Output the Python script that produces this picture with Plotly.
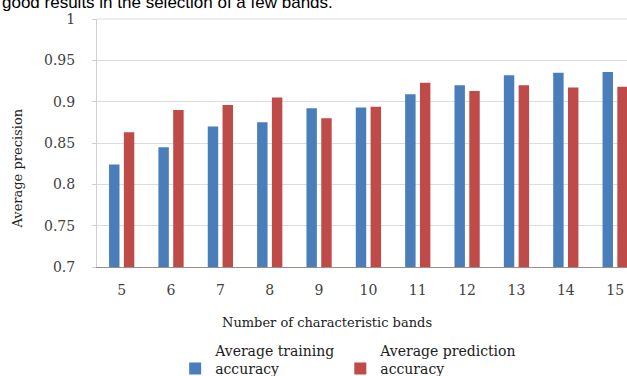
import plotly.graph_objects as go

# Number of characteristic bands selected
bands = ["5", "6", "7", "8", "9", "10", "11", "12", "13", "14", "15"]

# Average precision per band count
training_accuracy = [0.824, 0.845, 0.870, 0.875, 0.892, 0.893, 0.909, 0.920, 0.932, 0.935, 0.936]
prediction_accuracy = [0.863, 0.890, 0.896, 0.905, 0.880, 0.894, 0.923, 0.913, 0.920, 0.917, 0.918]

y_ticks = [0.7, 0.75, 0.8, 0.85, 0.9, 0.95, 1.0]
y_tick_text = ["0.7", "0.75", "0.8", "0.85", "0.9", "0.95", "1"]

SERIF = "DejaVu Serif"
BLUE = "#4a7ebb"
RED = "#be4b48"

fig = go.Figure()
fig.add_trace(go.Bar(x=bands, y=training_accuracy, name="Average training<br>accuracy",
                     marker=dict(color=BLUE, line=dict(width=0))))
fig.add_trace(go.Bar(x=bands, y=prediction_accuracy, name="Average prediction<br>accuracy",
                     marker=dict(color=RED, line=dict(width=0))))

fig.update_layout(
    width=627, height=376,
    margin=dict(l=97, r=0, t=19, b=109, autoexpand=False),
    paper_bgcolor="white", plot_bgcolor="white",
    barmode="group", bargap=0.40, bargroupgap=0.295,
    font=dict(family=SERIF, size=13, color="#404040"),
    showlegend=True,
    legend=dict(orientation="h", x=0.1475, xanchor="left", y=-0.475, yanchor="bottom",
                valign="bottom", font=dict(family=SERIF, size=14, color="#202020"),
                itemwidth=30, tracegroupgap=0, bgcolor="rgba(0,0,0,0)"),
    xaxis=dict(type="category", range=[-0.5, 10.24], showgrid=False,
               showline=True, linecolor="#9a8f86", linewidth=1,
               ticks="", ticklabelstandoff=10,
               tickfont=dict(family=SERIF, size=14, color="#404040")),
    yaxis=dict(range=[0.7, 1.0], tickvals=y_ticks, ticktext=y_tick_text,
               showgrid=True, gridcolor="#dcdcdc", gridwidth=1,
               showline=True, linecolor="#d0d0d0", linewidth=1,
               ticks="outside", ticklen=4, tickcolor="#d0d0d0",
               ticklabelstandoff=14, zeroline=False,
               tickfont=dict(family=SERIF, size=14, color="#404040")),
    shapes=[
        dict(type="line", xref="paper", yref="paper", x0=0, x1=1, y0=1, y1=1,
             line=dict(color="#dcdcdc", width=1)),
    ],
    annotations=[
        dict(text="Number of characteristic bands", xref="paper", yref="paper",
             x=0.232, xanchor="left", y=-0.222, yanchor="middle", showarrow=False,
             font=dict(family=SERIF, size=13, color="#202020")),
        dict(text="Average precision", xref="paper", yref="paper",
             x=-0.149, xanchor="center", y=0.397, yanchor="middle", showarrow=False,
             textangle=-90, font=dict(family=SERIF, size=13, color="#202020")),
        dict(text="good results in the selection of a few bands.", xref="paper", yref="paper",
             x=-0.183, xanchor="left", y=1.0, yanchor="bottom", yshift=5, showarrow=False,
             font=dict(family="Liberation Sans", size=17, color="#000000")),
    ],
)

fig.write_html("out.html")
